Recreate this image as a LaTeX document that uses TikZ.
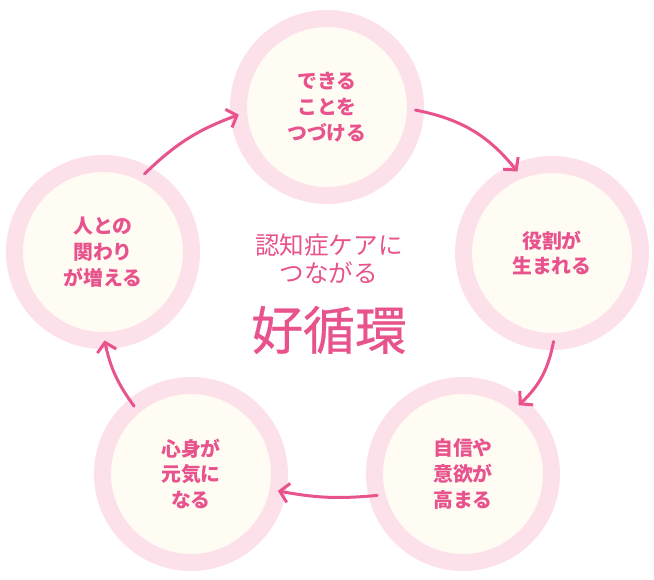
\documentclass[tikz,border=0pt]{standalone}
\usepackage{fontspec}
\newfontfamily\jpfont{Noto Sans CJK JP}
\newfontfamily\jptitlefont{Noto Sans CJK JP}[FakeBold=0.6]
\usetikzlibrary{arrows.meta}

\definecolor{ringpink}{HTML}{FDE1EA}
\definecolor{creamfill}{HTML}{FFFDF3}
\definecolor{textpink}{HTML}{E8528D}

\begin{document}
\begin{tikzpicture}[x=0.02cm,y=0.02cm,
	stepcircle/.style={
		circle, draw=ringpink, fill=creamfill, line width=0.34cm,
		minimum size=3.54cm, inner sep=0pt, outer sep=0pt,
		text=textpink, align=center,
		font=\jpfont\bfseries\fontsize{11.3}{14.7}\selectfont
	},
	centertext/.style={
		text=textpink, align=center,
		font=\jpfont\fontsize{14}{16}\selectfont
	},
	titletext/.style={
		text=textpink,
		font=\jptitlefont\fontsize{29.5}{32}\selectfont
	},
	cyclearrow/.style={
		draw=textpink, line width=1.7pt, line cap=round,
		-{Straight Barb[length=5pt,width=11pt]}, bend left=#1
	}]
	% Fix the page size
	\useasboundingbox (0,0) rectangle (654,-580);
	
	% The five steps of the cycle
	\node[stepcircle] (dekiru) at (327,-107) {できる\\ことを\\つづける};
	\node[stepcircle] (yakuwari) at (552,-253) {役割が\\生まれる};
	\node[stepcircle] (jishin) at (463,-474) {自信や\\意欲が\\高まる};
	\node[stepcircle] (shinshin) at (191,-474) {心身が\\元気に\\なる};
	\node[stepcircle] (hito) at (103,-252) {人との\\関わり\\が増える};
	
	% Text in the middle
	\node[centertext] (caption) at (329,-259) {認知症ケアに\\つながる};
	\node[titletext] (title) at (329,-330) {好循環};
	
	% Arrows between the steps
	\draw[cyclearrow=20] (dekiru.-2) to (yakuwari.113);
	\draw[cyclearrow=18] (yakuwari.-89) to (jishin.51);
	\draw[cyclearrow=8] (jishin.194) to (shinshin.-11);
	\draw[cyclearrow=12] (shinshin.130) to (hito.-89);
	\draw[cyclearrow=12] (hito.62) to (dekiru.185);
\end{tikzpicture}
\end{document}
